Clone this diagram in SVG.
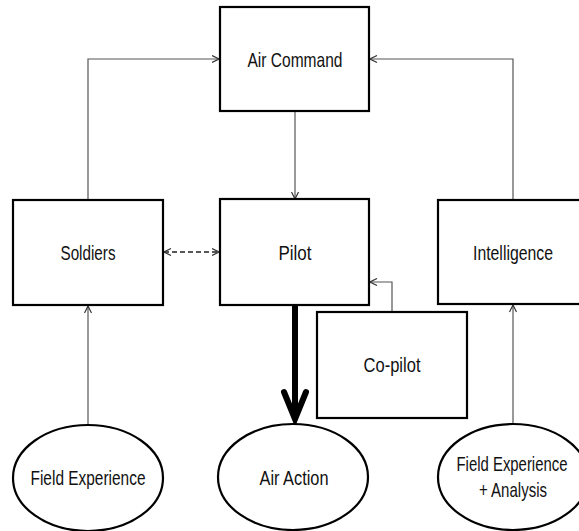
<svg xmlns="http://www.w3.org/2000/svg" width="579" height="531" viewBox="0 0 579 531">
<defs>
<marker id="open" viewBox="0 0 8 8" refX="7.5" refY="4" markerWidth="8" markerHeight="8" markerUnits="userSpaceOnUse" orient="auto-start-reverse">
<path d="M0.5,0.5 L7.5,4 L0.5,7.5" fill="none" stroke="#333" stroke-width="1.2"/>
</marker>
<style>
.box{fill:#fff;stroke:#000;stroke-width:2.2}
.lbl{font-family:"Liberation Sans",Arial,sans-serif;font-size:21px;fill:#111;text-anchor:middle}
.conn{fill:none;stroke:#555;stroke-width:1.2}
.dash{fill:none;stroke:#222;stroke-width:1.5;stroke-dasharray:5,3}
</style>
</defs>
<rect width="579" height="531" fill="#fff"/>
<g id="connectors">
<path class="conn" d="M88,200 V59 H219" marker-end="url(#open)"/>
<path class="conn" d="M513,200 V59 H370" marker-end="url(#open)"/>
<path class="conn" d="M295,111 V199" marker-end="url(#open)"/>
<path class="dash" d="M164,252 H219" marker-start="url(#open)" marker-end="url(#open)"/>
<path class="conn" d="M392,312 V282 H370" marker-end="url(#open)"/>
<path class="conn" d="M88,425 V306" marker-end="url(#open)"/>
<path class="conn" d="M513,425 V305" marker-end="url(#open)"/>
<path d="M295,306 V418" fill="none" stroke="#000" stroke-width="6"/>
<path d="M284,392 L295,419 L306,392" fill="none" stroke="#000" stroke-width="6" stroke-linecap="round" stroke-linejoin="miter"/>
</g>
<g id="air-command">
<rect class="box" x="220" y="7" width="149" height="104"/>
<text class="lbl" x="295" y="67" textLength="95" lengthAdjust="spacingAndGlyphs">Air Command</text>
</g>
<g id="soldiers">
<rect class="box" x="13" y="200" width="150" height="105"/>
<text class="lbl" x="88" y="260" textLength="55" lengthAdjust="spacingAndGlyphs">Soldiers</text>
</g>
<g id="pilot">
<rect class="box" x="220" y="199" width="149" height="106"/>
<text class="lbl" x="295" y="260" textLength="33" lengthAdjust="spacingAndGlyphs">Pilot</text>
</g>
<g id="intelligence">
<rect class="box" x="438" y="200" width="150" height="104"/>
<text class="lbl" x="513" y="260" textLength="80" lengthAdjust="spacingAndGlyphs">Intelligence</text>
</g>
<g id="co-pilot">
<rect class="box" x="317" y="312" width="150" height="106"/>
<text class="lbl" x="392" y="372" textLength="57" lengthAdjust="spacingAndGlyphs">Co-pilot</text>
</g>
<g id="field-experience">
<ellipse class="box" cx="88" cy="478" rx="75" ry="53"/>
<text class="lbl" x="88" y="485" textLength="115" lengthAdjust="spacingAndGlyphs">Field Experience</text>
</g>
<g id="air-action">
<ellipse class="box" cx="293" cy="477" rx="75" ry="53"/>
<text class="lbl" x="294" y="485" textLength="69" lengthAdjust="spacingAndGlyphs">Air Action</text>
</g>
<g id="field-experience-analysis">
<ellipse class="box" cx="513" cy="477" rx="75" ry="53"/>
<text class="lbl" transform="translate(512,471) scale(0.71,1)" x="0" y="0">Field Experience</text>
<text class="lbl" x="513" y="497" textLength="68" lengthAdjust="spacingAndGlyphs">+ Analysis</text>
</g>
</svg>
